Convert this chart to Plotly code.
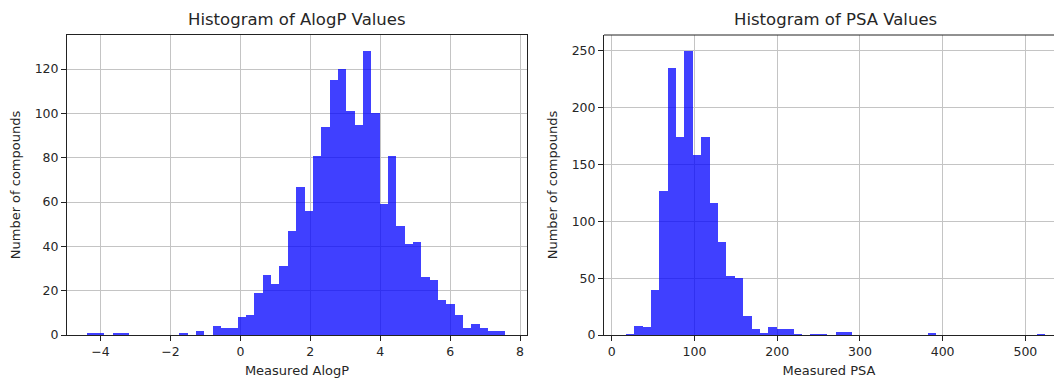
import plotly.graph_objects as go

# ---- data ----
alogp_counts = [1, 1, 0, 1, 1, 0, 0, 0, 0, 0,
                0, 1, 0, 2, 0, 4, 3, 3, 8, 9,
                19, 27, 23, 31, 47, 67, 56, 81, 94, 115,
                120, 101, 95, 128, 100, 59, 81, 49, 41, 42,
                26, 25, 16, 14, 9, 3, 5, 3, 2, 2]
alogp_bin_start = -4.374
alogp_bin_width = 0.2388

psa_counts = [1, 8, 7, 40, 127, 235, 174, 250, 158, 174,
              116, 82, 52, 50, 17, 5, 2, 7, 5, 5,
              1, 0, 1, 1, 0, 3, 3, 0, 0, 0,
              0, 0, 0, 0, 0, 0, 2, 0, 0, 0,
              0, 0, 0, 0, 0, 0, 0, 0, 0, 1]
psa_bin_start = 16.96
psa_bin_width = 10.145

alogp_ticks = [-4, -2, 0, 2, 4, 6, 8]
psa_ticks = [0, 100, 200, 300, 400, 500]
alogp_yticks = [0, 20, 40, 60, 80, 100, 120]
psa_yticks = [0, 50, 100, 150, 200, 250]

titles = ["Histogram of AlogP Values", "Histogram of PSA Values"]
xlabels = ["Measured AlogP", "Measured PSA"]
ylabel = "Number of compounds"


def centers(start, width, n):
    return [start + width * (i + 0.5) for i in range(n)]


W, H = 1054, 378
ML, MT, MB = 67, 35, 43
PW = W - ML
PH = H - MT - MB
BAR = "rgba(0,0,255,0.75)"
TXT = "#262626"
FONT = "DejaVu Sans"

fig = go.Figure()
fig.add_trace(go.Bar(x=centers(alogp_bin_start, alogp_bin_width, len(alogp_counts)),
                     y=alogp_counts, width=alogp_bin_width,
                     marker=dict(color=BAR, line=dict(width=0)),
                     xaxis="x", yaxis="y", showlegend=False))
fig.add_trace(go.Bar(x=centers(psa_bin_start, psa_bin_width, len(psa_counts)),
                     y=psa_counts, width=psa_bin_width,
                     marker=dict(color=BAR, line=dict(width=0)),
                     xaxis="x2", yaxis="y2", showlegend=False))

common_ax = dict(showgrid=True, gridcolor="#c4c4c4", gridwidth=1,
                 showline=True, linecolor="#222", linewidth=1,
                 ticks="outside", ticklen=5, tickcolor="#222", tickwidth=1,
                 tickfont=dict(family=FONT, size=12.5, color=TXT),
                 zeroline=False, automargin=False)

xdom1 = [0, (527 - ML) / PW]
xdom2 = [(604 - ML) / PW, 1.0]


def px_x(px):
    return (px - ML) / PW


def px_y(py):
    return (H - MB - py) / PH


fig.update_layout(
    width=W, height=H,
    margin=dict(l=ML, r=0, t=MT, b=MB, pad=0),
    paper_bgcolor="white", plot_bgcolor="white",
    bargap=0,
    font=dict(family=FONT, color=TXT),
    xaxis=dict(domain=xdom1, range=[-4.96, 8.2],
               tickvals=alogp_ticks, mirror=True, anchor="y",
               title=dict(text=xlabels[0], font=dict(family=FONT, size=13, color=TXT), standoff=7),
               **common_ax),
    yaxis=dict(domain=[0, 1], range=[0, 135.4], tickvals=alogp_yticks, mirror=True, anchor="x",
               title=dict(text=ylabel, font=dict(family=FONT, size=13, color=TXT), standoff=11),
               **common_ax),
    xaxis2=dict(domain=xdom2, range=[-9.3, 534.6],
                tickvals=psa_ticks, mirror=False, anchor="y2",
                title=dict(text=xlabels[1], font=dict(family=FONT, size=13, color=TXT), standoff=7),
                **common_ax),
    yaxis2=dict(domain=[0, 1], range=[0, 263.8], tickvals=psa_yticks, mirror=False, anchor="x2",
                title=dict(text=ylabel, font=dict(family=FONT, size=13, color=TXT), standoff=11),
                **common_ax),
    annotations=[
        dict(text=titles[0], x=px_x(297), y=px_y(20), xref="paper", yref="paper",
             showarrow=False, font=dict(family=FONT, size=16.5, color=TXT), xanchor="center", yanchor="middle"),
        dict(text=titles[1], x=px_x(835), y=px_y(20), xref="paper", yref="paper",
             showarrow=False, font=dict(family=FONT, size=16.5, color=TXT), xanchor="center", yanchor="middle"),
    ],
)
# top spine for right plot (no right spine visible)
fig.add_shape(type="line", xref="x2 domain", yref="y2 domain", x0=0, x1=1,
              y0=1, y1=1, line=dict(color="#222", width=1))

fig.write_html("out.html")
